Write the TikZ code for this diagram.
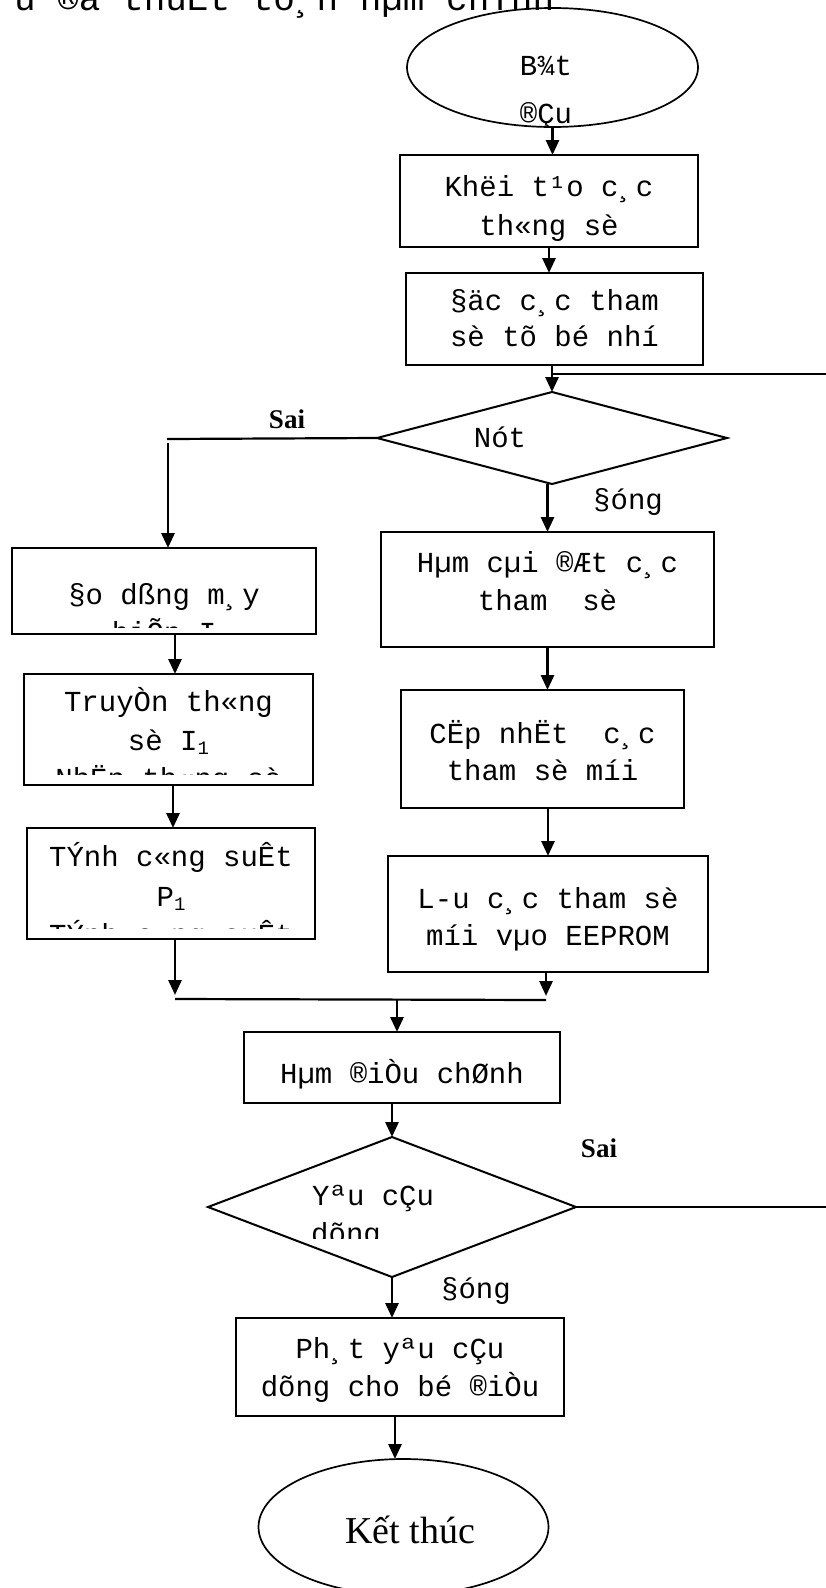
\documentclass[tikz,border=0pt]{standalone}
\usepackage{fontspec}
\setmainfont{Liberation Serif}
\newfontfamily\monofnt{Liberation Mono}
\usetikzlibrary{shapes.geometric,arrows.meta}
\newcommand\lowidx[1]{\raisebox{-4pt}{\fontsize{19pt}{19pt}\selectfont #1}}
\begin{document}
\begin{tikzpicture}[x=1pt,y=-1pt,
  box/.style={draw, line width=2pt, rectangle, inner sep=0pt, outer sep=0pt},
  dia/.style={draw, line width=2pt, diamond, inner sep=0pt, outer sep=0pt},
  ell/.style={draw, line width=1.7pt, ellipse, inner sep=0pt, outer sep=0pt},
  arr/.style={line width=2.8pt, -{Triangle[length=15pt,width=13pt]}},
  lin/.style={line width=2.2pt},
  txt/.style={font=\monofnt\fontsize{29pt}{38pt}\selectfont, inner sep=0pt, anchor=base},
  lbl/.style={font=\fontsize{27pt}{32pt}\selectfont\bfseries, inner sep=0pt, anchor=base},
  ttl/.style={font=\monofnt\fontsize{36pt}{40pt}\selectfont, inner sep=0pt, anchor=base west}]
\useasboundingbox (0,0) rectangle (826,1588);
\begin{scope}
\clip (12,-40) rectangle (826,40);
\node[ttl] (title) at (-29.2,10) {L-u ®å thuËt to¸n hµm chÝnh};
\end{scope}

% shapes
\node[ell, minimum width=291pt, minimum height=119pt] (start) at (552.5,67.5) {};
\node[box, minimum width=298pt, minimum height=92pt] (b1) at (549,201) {};
\node[box, minimum width=297pt, minimum height=92pt] (b2) at (554.5,319) {};
\node[dia, minimum width=350pt, minimum height=92pt] (d1) at (552,438) {};
\node[box, minimum width=333pt, minimum height=115pt] (b3) at (547.5,589.5) {};
\node[box, minimum width=283pt, minimum height=118pt] (b4) at (542.5,749) {};
\node[box, minimum width=320pt, minimum height=116pt] (b5) at (548,914) {};
\node[box, minimum width=304pt, minimum height=86pt] (l1) at (164,591) {};
\node[box, minimum width=289pt, minimum height=111pt] (l2) at (168.5,729.5) {};
\node[box, minimum width=288pt, minimum height=111pt] (l3) at (171,883.5) {};
\node[box, minimum width=316pt, minimum height=71pt] (b6) at (402,1067.5) {};
\node[dia, minimum width=368pt, minimum height=140pt] (d2) at (392,1207) {};
\node[box, minimum width=328pt, minimum height=98pt] (b7) at (400,1367) {};
\node[ell, minimum width=290pt, minimum height=136pt] (stop) at (403.5,1527) {};

% texts
\node[txt] (t0a) at (546,75) {B¾t};
\begin{scope}
\clip (400,80) rectangle (700,125);
\node[txt] (t0b) at (546,123) {®Çu};
\end{scope}
\node[txt] (t1a) at (549,196) {Khëi t¹o c¸c};
\node[txt] (t1b) at (549,235) {th«ng sè};
\node[txt] (t2a) at (554.5,310) {§äc c¸c tham};
\node[txt] (t2b) at (554.5,346) {sè tõ bé nhí};
\node[txt] (t3) at (500,447) {Nót};
\node[lbl] (sai1) at (287,428) {Sai};
\node[txt] (dung1) at (628,509) {§óng};
\node[txt] (t4a) at (547.5,572) {Hµm cµi ®Æt c¸c};
\node[txt] (t4b) at (547.5,610) {tham~~sè};
\node[txt] (t5a) at (542.5,743) {CËp nhËt~~c¸c};
\node[txt] (t5b) at (542.5,780) {tham sè míi};
\node[txt] (t6a) at (548,908) {L-u c¸c tham sè};
\node[txt] (t6b) at (548,945) {míi vµo EEPROM};
\node[txt] (t7a) at (164,604) {§o dßng m¸y};
\begin{scope}
\clip (12,606) rectangle (316,627);
\node[txt] (t7b) at (164,642) {biÕn I};
\end{scope}
\node[txt] (t8a) at (168.5,711) {TruyÒn th«ng};
\node[txt] (t8b) at (168.5,750) {sè I\lowidx{1}};
\begin{scope}
\clip (24,760) rectangle (313,774);
\node[txt] (t8c) at (168.5,788) {NhËn th«ng sè};
\end{scope}
\node[txt] (t9a) at (171,866) {TÝnh c«ng suÊt};
\node[txt] (t9b) at (171,906) {P\lowidx{1}};
\begin{scope}
\clip (27,916) rectangle (315,928);
\node[txt] (t9c) at (171,944) {TÝnh c«ng suÊt};
\end{scope}
\node[txt] (t10) at (402,1083) {Hµm ®iÒu chØnh};
\node[txt, anchor=base west] (t11a) at (312,1205) {Yªu cÇu};
\begin{scope}
\clip (300,1215) rectangle (450,1238);
\node[txt, anchor=base west] (t11b) at (311,1243) {dõng};
\end{scope}
\node[lbl] (sai2) at (599,1157) {Sai};
\node[txt] (dung2) at (476,1298) {§óng};
\node[txt] (t12a) at (400,1358) {Ph¸t yªu cÇu};
\node[txt] (t12b) at (400,1396) {dõng cho bé ®iÒu};
\node[font=\fontsize{38pt}{44pt}\selectfont, inner sep=0pt, anchor=base] (t13) at (410,1543) {Kết thúc};

% connectors
\draw[arr] (start.south) -- (start.south |- b1.north);
\draw[arr] (b1.south) -- (b1.south |- b2.north);
\draw[arr] (d1.north |- b2.south) -- (d1.north);
\coordinate (r1) at (830,374);
\draw[lin] (r1) -- (d1.north |- r1);
\coordinate (c1) at (167,439);
\draw[lin] (d1.west) -- (c1);
\coordinate (c1b) at (168,443);
\draw[arr] (c1b) -- (c1b |- l1.north);
\draw[arr] (b3.north |- d1.south) -- (b3.north);
\draw[arr] (b3.south) -- (b3.south |- b4.north);
\draw[arr] (b5.north |- b4.south) -- (b5.north);
\draw[arr] ([xshift=11pt]l1.south) -- ([xshift=11pt]l1.south |- l2.north);
\draw[arr] ([xshift=4.5pt]l2.south) -- ([xshift=4.5pt]l2.south |- l3.north);
\coordinate (j1) at (175,999);
\coordinate (j2) at (546,1000);
\coordinate (jm) at (397,999.5);
\draw[arr, shorten >=4pt] (j1 |- l3.south) -- (j1);
\draw[arr, shorten >=4pt] (j2 |- b5.south) -- (j2);
\draw[lin] (j1) -- (j2);
\draw[arr] (jm) -- (jm |- b6.north);
\draw[arr] (d2.north |- b6.south) -- (d2.north);
\coordinate (r2) at (830,1207);
\draw[lin] (d2.east) -- (r2);
\draw[arr] (d2.south) -- (d2.south |- b7.north);
\draw[arr] ([xshift=-5pt]b7.south) -- ([xshift=-5pt]b7.south |- stop.north);
\end{tikzpicture}
\end{document}
